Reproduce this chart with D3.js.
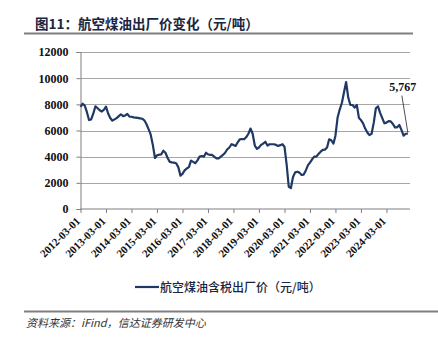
<!DOCTYPE html>
<html>
<head>
<meta charset="utf-8">
<script src="https://cdn.jsdelivr.net/npm/d3@7/dist/d3.min.js"></script>
<style>
  html, body { margin: 0; padding: 0; background: #fff; }
  svg { display: block; }
</style>
</head>
<body>
<svg id="chart" width="438" height="343"></svg>
<script>
// Monthly jet fuel ex-factory price (yuan/ton), starting March 2012
const startMonth = "2012-03";
const priceValues = [
  7800, 8050, 7900, 7400, 6800, 6850, 7300, 7850, 7700, 7550,
  7450, 7600, 7820, 7300, 6950, 6750, 6850, 6950, 7100, 7240,
  7100, 7150, 7260, 7060, 7050, 7000, 6980, 6960, 6930, 6900,
  6780, 6500, 6100, 5700, 4900, 3900, 4100, 4150, 4180, 4450,
  4300, 3900, 3600, 3560, 3540, 3500, 3200, 2550, 2680, 2950,
  3100, 3200, 3700, 3600, 3500, 3720, 4000, 4050, 4000, 4300,
  4180, 4130, 4130, 3980, 3870, 3870, 4000, 4130, 4300, 4550,
  4700, 4950, 4900, 4820, 5100, 5330, 5350, 5330, 5500, 5750,
  6150, 5750, 4850, 4600, 4700, 4900, 5000, 5140, 4850, 4950,
  4950, 4950, 4900, 4820, 4880, 4950, 4760, 3400, 1700, 1600,
  2450, 2800, 2850, 2780, 2600, 2630, 2950, 3350, 3550, 3800,
  4000, 4000, 4200, 4380, 4520, 4540, 4700, 5330, 5250, 5000,
  5600, 7000, 7600, 8100, 8900, 9700, 8500, 7950, 7950, 7750,
  7950, 6950, 6800, 6550, 6150, 5850, 5650, 5750, 6600, 7700,
  7850, 7350, 6950, 6550, 6600, 6720, 6700, 6500, 6240, 6240,
  6420, 6050, 5600, 5750, 5767
];
const yTicks = [0, 2000, 4000, 6000, 8000, 10000, 12000];
const xTickLabels = [
  "2012-03-01", "2013-03-01", "2014-03-01", "2015-03-01", "2016-03-01",
  "2017-03-01", "2018-03-01", "2019-03-01", "2020-03-01", "2021-03-01",
  "2022-03-01", "2023-03-01", "2024-03-01"
];
const titleText = "图11：航空煤油出厂价变化（元/吨）";
const legendText = "航空煤油含税出厂价（元/吨）";
const sourceText = "资料来源：iFind，信达证券研发中心";
const endLabel = "5,767";

const parseMonth = d3.timeParse("%Y-%m");
const parseDay = d3.timeParse("%Y-%m-%d");
const start = parseMonth(startMonth);
const series = priceValues.map((v, i) => ({ date: d3.timeMonth.offset(start, i), value: v }));

const svg = d3.select("#chart");
const navy = "#1f3864";
const serif = "'Liberation Serif', 'Times New Roman', serif";
const cjk = "'Noto Sans CJK SC', sans-serif";

const plot = { left: 80.5, right: 410, top: 52, bottom: 209 };

const x = d3.scaleTime()
  .domain([start, d3.timeMonth.offset(start, 155)])
  .range([plot.left, plot.right]);
const y = d3.scaleLinear().domain([0, 12000]).range([plot.bottom, plot.top]);

// Title and its rule
svg.append("text")
  .attr("x", 35).attr("y", 29)
  .attr("font-family", cjk).attr("font-weight", 700)
  .attr("font-size", 13.5).attr("fill", "#1a2540")
  .text(titleText);
svg.append("line")
  .attr("x1", 24).attr("x2", 413).attr("y1", 33.5).attr("y2", 33.5)
  .attr("stroke", "#7f7f7f").attr("stroke-width", 2);

// Horizontal gridlines
svg.append("g")
  .selectAll("line")
  .data(yTicks.filter(t => t > 0))
  .join("line")
  .attr("x1", plot.left).attr("x2", plot.right)
  .attr("y1", d => Math.round(y(d)) + 0.5).attr("y2", d => Math.round(y(d)) + 0.5)
  .attr("stroke", "#a6a6a6").attr("stroke-width", 1);

// Y axis
const yAxis = svg.append("g")
  .attr("transform", `translate(${plot.left},0)`)
  .call(d3.axisLeft(y).tickValues(yTicks).tickSize(4).tickPadding(8).tickFormat(d3.format("d")));
yAxis.select(".domain").attr("stroke", "#7f7f7f");
yAxis.selectAll(".tick line").attr("stroke", "#7f7f7f");
yAxis.selectAll("text")
  .attr("font-family", serif).attr("font-weight", 700)
  .attr("font-size", 12).attr("fill", "#111");

// X axis
const xAxis = svg.append("g")
  .attr("transform", `translate(0,${plot.bottom})`)
  .call(d3.axisBottom(x)
    .tickValues(xTickLabels.map(parseDay))
    .tickSize(4)
    .tickFormat(d3.timeFormat("%Y-%m-%d")));
xAxis.select(".domain").attr("stroke", "#7f7f7f").attr("d", `M${plot.left},0H${plot.right}`);
xAxis.selectAll(".tick line").attr("stroke", "#7f7f7f");
xAxis.selectAll("text")
  .attr("font-family", serif).attr("font-weight", 700)
  .attr("font-size", 11).attr("fill", "#111")
  .attr("text-anchor", "end")
  .attr("dy", null)
  .attr("transform", "translate(-2,11) rotate(-45)")
  .attr("y", 0).attr("x", 0)
  .attr("dominant-baseline", "middle");

// Price line
const line = d3.line().x(d => x(d.date)).y(d => y(d.value)).curve(d3.curveLinear);
svg.append("path")
  .datum(series)
  .attr("d", line)
  .attr("fill", "none")
  .attr("stroke", navy)
  .attr("stroke-width", 2.2)
  .attr("stroke-linejoin", "round");

// Latest value callout
const last = series[series.length - 1];
const lx = x(last.date), ly = y(last.value);
svg.append("line")
  .attr("x1", lx - 6).attr("y1", ly - 38)
  .attr("x2", lx).attr("y2", ly - 1)
  .attr("stroke", "#222").attr("stroke-width", 0.8);
svg.append("text")
  .attr("x", lx - 5).attr("y", ly - 43)
  .attr("text-anchor", "middle")
  .attr("font-family", serif).attr("font-weight", 700)
  .attr("font-size", 12).attr("fill", "#111")
  .text(endLabel);

// Legend
svg.append("line")
  .attr("x1", 135).attr("x2", 159).attr("y1", 287).attr("y2", 287)
  .attr("stroke", navy).attr("stroke-width", 2.2);
svg.append("text")
  .attr("x", 160).attr("y", 291.5)
  .attr("font-family", cjk).attr("font-weight", 500)
  .attr("font-size", 12).attr("fill", "#1a2540")
  .text(legendText);

// Footer rule and source
svg.append("line")
  .attr("x1", 24).attr("x2", 438).attr("y1", 311.5).attr("y2", 311.5)
  .attr("stroke", "#7f7f7f").attr("stroke-width", 2);
svg.append("text")
  .attr("x", 26).attr("y", 327)
  .attr("font-family", cjk)
  .attr("font-size", 11).attr("fill", "#333")
  .attr("font-style", "italic")
  .text(sourceText);
</script>
</body>
</html>
